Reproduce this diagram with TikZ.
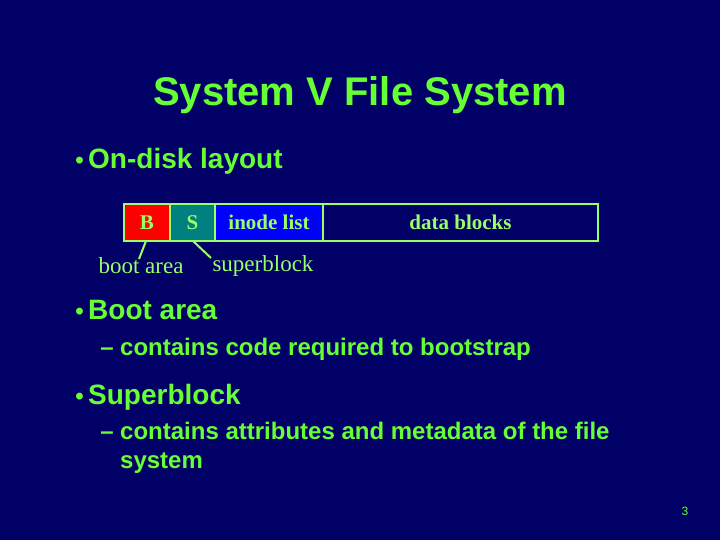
\documentclass[tikz,border=0pt]{standalone}
\usepackage{fontspec}
\setmainfont{Liberation Sans}
\newfontfamily\serf{Liberation Serif}
\definecolor{bg}{RGB}{0,0,102}
\definecolor{tgreen}{RGB}{102,255,51}
\definecolor{lgreen}{RGB}{153,255,102}
\definecolor{bred}{RGB}{255,0,0}
\definecolor{bteal}{RGB}{0,128,128}
\definecolor{bblue}{RGB}{0,0,255}
\begin{document}
\begin{tikzpicture}[x=1pt,y=-1pt,
  seg/.style={draw=lgreen,line width=2.5pt,text=lgreen,font=\serf\bfseries\fontsize{21}{21}\selectfont},
  lbl/.style={text=lgreen,font=\serf\fontsize{23}{23}\selectfont,inner sep=0pt},
  bul/.style={text=tgreen,font=\bfseries\fontsize{28}{32}\selectfont,anchor=base west,inner sep=0pt},
  dot/.style={text=tgreen,font=\bfseries\fontsize{24}{28}\selectfont,anchor=base east,inner sep=0pt},
  sub/.style={text=tgreen,font=\bfseries\fontsize{24}{29}\selectfont,anchor=base west,inner sep=0pt,align=left}]
\fill[bg] (0,0) rectangle (720,540);
\useasboundingbox (0,0) rectangle (720,540);
\node[text=tgreen,font=\bfseries\fontsize{40}{44}\selectfont] (title) at (360,95) {System V File System};
\node[dot] (d1) at (84,169) {\textbullet};
\node[bul] (b1) at (88,169) {On-disk layout};
\fill[bred] (124,204) rectangle (170,241);
\fill[bteal] (170,204) rectangle (215,241);
\fill[bblue] (215,204) rectangle (323,241);
\node[seg,minimum width=46pt,minimum height=37pt,inner sep=0pt] (B) at (147,222.5) {B};
\node[seg,minimum width=45pt,minimum height=37pt,inner sep=0pt] (S) at (192.5,222.5) {S};
\node[seg,minimum width=108pt,minimum height=37pt,inner sep=0pt] (I) at (269,222.5) {inode list};
\node[seg,minimum width=275pt,minimum height=37pt,inner sep=0pt] (D) at (460.5,222.5) {data blocks};
\node[lbl] (ba) at (141,266) {boot area};
\node[lbl] (sb) at (263,266) {superblock};
\coordinate (bae) at (139,259);
\coordinate (sbe) at (211,258);
\draw[lgreen,line width=2pt] (146,241) -- (bae);
\draw[lgreen,line width=2pt] (193,241) -- (sbe);
\node[dot] (d2) at (84,319) {\textbullet};
\node[bul] (b2) at (88,319) {Boot area};
\node[sub,anchor=base east] (m2) at (114,355) {–};
\node[sub] (s2) at (120,355) {contains code required to bootstrap};
\node[dot] (d3) at (84,404) {\textbullet};
\node[bul] (b3) at (88,404) {Superblock};
\node[sub,anchor=base east] (m3) at (114,439) {–};
\node[sub] (s3) at (120,439) {contains attributes and metadata of the file};
\node[sub] (s3b) at (120,468) {system};
\node[text=tgreen,font=\fontsize{12}{12}\selectfont] (pg) at (685,511) {3};
\end{tikzpicture}
\end{document}
